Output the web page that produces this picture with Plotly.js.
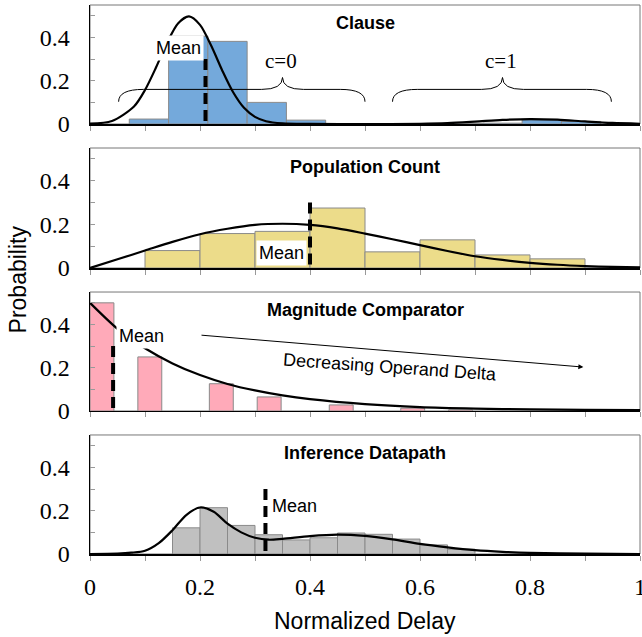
<!DOCTYPE html>
<html><head><meta charset="utf-8">
<script src="https://cdn.plot.ly/plotly-3.0.1.min.js"></script>
<style>html,body{margin:0;padding:0;background:#fff;}#chart{width:642px;height:637px;}</style>
</head><body><div id="chart"></div>
<script>
// ---------------- data ----------------
const panelTitles = ["Clause", "Population Count", "Magnitude Comparator", "Inference Datapath"];

const clauseBinStart = [0.0714, 0.1429, 0.2143, 0.2857, 0.3571, 0.5714, 0.6429, 0.7143, 0.7857, 0.8571];
const clauseBinWidth = 0.0714;
const clauseProb = [0.023, 0.406, 0.382, 0.100, 0.018, 0.002, 0.002, 0.004, 0.020, 0.012];

const popBinStart = [0.1, 0.2, 0.3, 0.4, 0.5, 0.6, 0.7, 0.8];
const popBinWidth = 0.1;
const popProb = [0.080, 0.158, 0.168, 0.275, 0.074, 0.129, 0.060, 0.042];

const magBinStart = [0.0, 0.087, 0.217, 0.304, 0.435, 0.565, 0.652];
const magBinWidth = 0.0435;
const magProb = [0.500, 0.250, 0.126, 0.065, 0.028, 0.013, 0.005];

const infBinStart = [0.15, 0.20, 0.25, 0.30, 0.35, 0.40, 0.45, 0.50, 0.55, 0.60, 0.65];
const infBinWidth = 0.05;
const infProb = [0.121, 0.214, 0.132, 0.089, 0.065, 0.075, 0.097, 0.091, 0.069, 0.042, 0.022];

const clauseFitX = [0, 0.04, 0.08, 0.10, 0.12, 0.14, 0.16, 0.18, 0.20, 0.22, 0.24, 0.26, 0.28, 0.30, 0.32, 0.35, 0.40, 0.50, 0.60, 0.65, 0.70, 0.75, 0.80, 0.85, 0.90, 0.95, 1.0];
const clauseFitY = [0.002, 0.014, 0.081, 0.157, 0.261, 0.375, 0.465, 0.497, 0.458, 0.364, 0.250, 0.148, 0.075, 0.033, 0.013, 0.003, 0.0005, 0.0, 0.001, 0.004, 0.011, 0.019, 0.023, 0.020, 0.012, 0.005, 0.0013];

const popFitX = [0, 0.05, 0.10, 0.15, 0.20, 0.25, 0.30, 0.35, 0.40, 0.45, 0.50, 0.55, 0.60, 0.65, 0.70, 0.75, 0.80, 0.85, 0.90, 0.95, 1.0];
const popFitY = [0, 0.040, 0.080, 0.120, 0.155, 0.180, 0.198, 0.203, 0.198, 0.182, 0.158, 0.132, 0.105, 0.078, 0.054, 0.037, 0.024, 0.015, 0.009, 0.005, 0.003];

const magFitX = [0, 0.05, 0.10, 0.15, 0.20, 0.25, 0.30, 0.35, 0.40, 0.50, 0.60, 0.70, 0.80, 0.90, 1.0];
const magFitY = [0.500, 0.380, 0.290, 0.220, 0.166, 0.125, 0.095, 0.072, 0.055, 0.032, 0.018, 0.011, 0.007, 0.005, 0.004];

const infFitX = [0, 0.05, 0.075, 0.10, 0.125, 0.15, 0.175, 0.20, 0.225, 0.25, 0.275, 0.30, 0.325, 0.35, 0.40, 0.45, 0.50, 0.55, 0.60, 0.65, 0.70, 0.75, 0.80, 0.90, 1.0];
const infFitY = [0, 0.002, 0.006, 0.015, 0.050, 0.110, 0.180, 0.215, 0.195, 0.140, 0.100, 0.075, 0.066, 0.070, 0.083, 0.090, 0.084, 0.068, 0.047, 0.031, 0.018, 0.010, 0.005, 0.0015, 0];

const meanX = [0.21, 0.40, 0.042, 0.319];
const meanTop = [0.30, 0.30, 0.30, 0.30];

const xTickVals = [0, 0.1, 0.2, 0.3, 0.4, 0.5, 0.6, 0.7, 0.8, 0.9, 1.0];
const xTickText = ["0", "", "0.2", "", "0.4", "", "0.6", "", "0.8", "", "1"];
const yTickVals = [0, 0.1, 0.2, 0.3, 0.4, 0.5];
const yTickText = ["0", "", "0.2", "", "0.4", ""];

// ---------------- styling ----------------
const barColors = ["#74a9db", "#ecdc8a", "#ffaab9", "#c0c0c0"];
const bins = [
  [clauseBinStart, clauseBinWidth, clauseProb],
  [popBinStart, popBinWidth, popProb],
  [magBinStart, magBinWidth, magProb],
  [infBinStart, infBinWidth, infProb]
];
const fits = [[clauseFitX, clauseFitY], [popFitX, popFitY], [magFitX, magFitY], [infFitX, infFitY]];
const domains = [[0.7832, 1.0], [0.5209, 0.7395], [0.2605, 0.4772], [0.0, 0.2168]];

const sans = "Liberation Sans, Arial, sans-serif";
const serif = "Liberation Serif, Times New Roman, serif";

const traces = [];
const layout = {
  width: 642, height: 637,
  margin: {l: 90, r: 2, t: 5, b: 83},
  paper_bgcolor: "#fff", plot_bgcolor: "#fff",
  showlegend: false, barmode: "overlay",
  shapes: [], annotations: []
};

for (let i = 0; i < 4; i++) {
  const s = i === 0 ? "" : String(i + 1);
  const xa = "x" + s, ya = "y" + s;
  const [st, w, p] = bins[i];
  traces.push({
    type: "bar", xaxis: xa, yaxis: ya,
    x: st.map(v => v + w / 2), y: p, width: st.map(() => w),
    marker: {color: barColors[i], line: {color: "#8a8a8a", width: 1}},
    hoverinfo: "skip"
  });
  traces.push({
    type: "scatter", mode: "lines", xaxis: xa, yaxis: ya,
    x: fits[i][0], y: fits[i][1],
    line: {color: "#000", width: 2.2, shape: "spline", smoothing: 0.8},
    hoverinfo: "skip"
  });
  traces.push({
    type: "scatter", mode: "lines", xaxis: xa, yaxis: ya,
    x: [meanX[i], meanX[i]], y: [meanTop[i], 0],
    line: {color: "#000", width: 4, dash: "11px,6px"},
    hoverinfo: "skip"
  });
  layout["xaxis" + s] = {
    domain: [0, 1], range: [0, 1], anchor: ya,
    showline: true, linecolor: "#000", linewidth: 1.5,
    ticks: "outside", ticklen: 5, tickcolor: "#999", tickwidth: 1,
    tickvals: xTickVals, ticktext: xTickText,
    showticklabels: i === 3, tickfont: {family: serif, size: 24, color: "#000"},
    ticklabelstandoff: 6, ticklabeloverflow: "allow",
    showgrid: false, zeroline: false, fixedrange: true, automargin: false
  };
  layout["yaxis" + s] = {
    domain: domains[i], range: [0, 0.55], anchor: xa,
    showline: true, linecolor: "#000", linewidth: 1.5,
    ticks: "inside", ticklen: 5, tickcolor: "#999", tickwidth: 1,
    tickvals: yTickVals, ticktext: yTickText,
    tickfont: {family: serif, size: 24, color: "#000"},
    ticklabelstandoff: 14,
    showgrid: false, zeroline: false, fixedrange: true, automargin: false
  };
  layout.shapes.push({
    type: "rect", xref: xa + " domain", yref: ya + " domain",
    x0: 0, x1: 1, y0: 0, y1: 1, line: {color: "#777", width: 1}, layer: "below"
  });
  layout.annotations.push({
    xref: xa, yref: ya, x: 0.5, y: 0.465, text: "<b>" + panelTitles[i] + "</b>",
    xanchor: "center", yanchor: "middle",
    showarrow: false, font: {family: sans, size: 18, color: "#000"}
  });
}

// braces in the Clause panel
function brace(x0, x1, xt, yb, ym, yt) {
  const c = 0.045, t = 0.038;
  return `M ${x0},${yb} Q ${x0},${ym} ${x0 + c},${ym} L ${xt - t},${ym} Q ${xt},${ym} ${xt},${yt} ` +
         `Q ${xt},${ym} ${xt + t},${ym} L ${x1 - c},${ym} Q ${x1},${ym} ${x1},${yb}`;
}
layout.shapes.push({type: "path", xref: "x", yref: "y", path: brace(0.052, 0.5, 0.35, 0.103, 0.16, 0.215), line: {color: "#000", width: 1}, layer: "above"});
layout.shapes.push({type: "path", xref: "x", yref: "y", path: brace(0.55, 0.948, 0.75, 0.103, 0.16, 0.215), line: {color: "#000", width: 1}, layer: "above"});
layout.annotations.push({xref: "x", yref: "y", x: 0.348, y: 0.29, xanchor: "center", yanchor: "middle", text: "c=0", showarrow: false, font: {family: serif, size: 21, color: "#000"}});
layout.annotations.push({xref: "x", yref: "y", x: 0.748, y: 0.29, xanchor: "center", yanchor: "middle", text: "c=1", showarrow: false, font: {family: serif, size: 21, color: "#000"}});

// Mean labels
const meanLabelPos = [["x", "y", 0.160, 0.352], ["x2", "y2", 0.348, 0.071], ["x3", "y3", 0.093, 0.346], ["x4", "y4", 0.371, 0.223]];
meanLabelPos.forEach(m => layout.annotations.push({
  xref: m[0], yref: m[1], x: m[2], y: m[3], text: "Mean", showarrow: false,
  xanchor: "center", yanchor: "middle",
  bgcolor: "#fff", borderpad: 2, font: {family: sans, size: 18, color: "#000"}
}));

// arrow and text in Magnitude Comparator
layout.annotations.push({
  xref: "x3", yref: "y3", axref: "x3", ayref: "y3",
  x: 0.897, y: 0.203, ax: 0.2, ay: 0.351, text: "",
  showarrow: true, arrowhead: 2, arrowsize: 1, arrowwidth: 1, arrowcolor: "#000"
});
layout.annotations.push({
  xref: "x3", yref: "y3", x: 0.545, y: 0.205, text: "Decreasing Operand Delta",
  xanchor: "center", yanchor: "middle",
  textangle: 4, showarrow: false, font: {family: sans, size: 18, color: "#000"}
});

// axis titles
layout.annotations.push({
  xref: "paper", yref: "paper", x: -0.131, y: 0.5, text: "Probability", textangle: -90,
  xanchor: "center", yanchor: "middle",
  showarrow: false, font: {family: sans, size: 23, color: "#000"}
});
layout.annotations.push({
  xref: "paper", yref: "paper", x: 0.5, y: -0.122, text: "Normalized Delay",
  xanchor: "center", yanchor: "middle",
  showarrow: false, font: {family: sans, size: 23, color: "#000"}
});

Plotly.newPlot("chart", traces, layout, {staticPlot: true, displayModeBar: false});
</script>
</body></html>
